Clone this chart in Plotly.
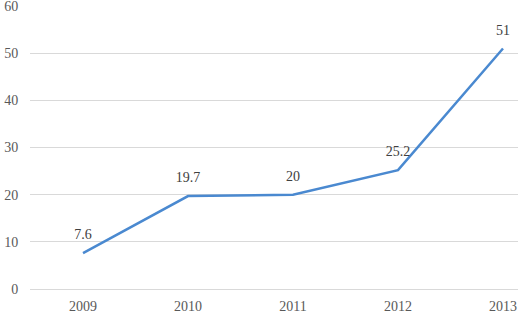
import plotly.graph_objects as go

years = ["2009", "2010", "2011", "2012", "2013"]
values = [7.6, 19.7, 20, 25.2, 51]
labels = ["7.6", "19.7", "20", "25.2", "51"]
y_ticks = [0, 10, 20, 30, 40, 50, 60]

SERIF = "Liberation Serif, Times New Roman, serif"

fig = go.Figure()
fig.add_trace(go.Scatter(
    x=years, y=values, mode="lines",
    line=dict(color="#4a89d0", width=2.5),
    hoverinfo="skip", showlegend=False, cliponaxis=False,
))
fig.add_trace(go.Scatter(
    x=years, y=values, mode="markers+text", text=labels,
    textposition="top center",
    marker=dict(size=15, opacity=0),
    textfont=dict(family=SERIF, size=14, color="#404040"),
    hoverinfo="skip", showlegend=False, cliponaxis=False,
))

fig.update_layout(
    width=518, height=313,
    margin=dict(l=30, r=0, t=6, b=24, autoexpand=False),
    paper_bgcolor="white", plot_bgcolor="white",
    font=dict(family=SERIF, size=14, color="#595959"),
    xaxis=dict(type="category", range=[-0.505, 4.143], showgrid=False,
               showline=True, linecolor="#d9d9d9", linewidth=1,
               tickfont=dict(family=SERIF, size=14, color="#595959"),
               ticks="outside", ticklen=4, tickcolor="rgba(0,0,0,0)",
               zeroline=False, automargin=False),
    yaxis=dict(range=[0, 60], tickvals=y_ticks, showgrid=True,
               tickfont=dict(family=SERIF, size=14, color="#595959"),
               gridcolor="#d9d9d9", gridwidth=1, zeroline=False,
               showline=False, ticks="outside", ticklen=8,
               tickcolor="rgba(0,0,0,0)", ticklabeloverflow="allow",
               automargin=False),
)
fig.write_html("out.html")
